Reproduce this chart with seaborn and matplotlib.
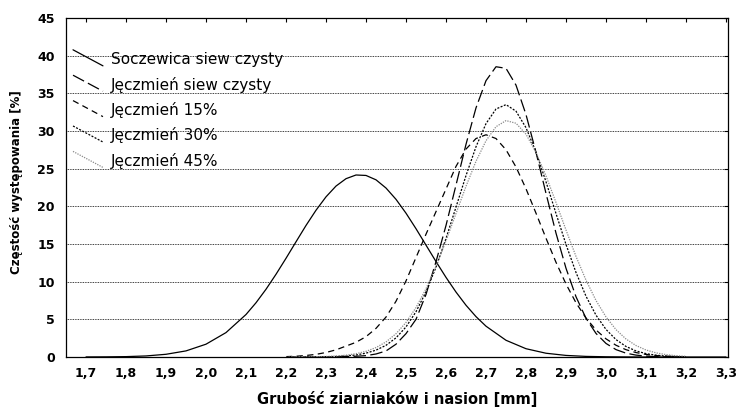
import matplotlib
matplotlib.use("Agg")
import pandas as pd
import seaborn as sns
import matplotlib.pyplot as plt
from matplotlib.lines import Line2D
from matplotlib.legend_handler import HandlerLine2D

# values (frequency in % vs thickness in mm)
lentil_x = [1.70, 1.75, 1.80, 1.85, 1.90, 1.95, 2.00, 2.05, 2.10, 2.125,
            2.15, 2.175, 2.20, 2.225, 2.25, 2.275, 2.30, 2.325, 2.35, 2.375,
            2.40, 2.425, 2.45, 2.475, 2.50, 2.525, 2.55, 2.575, 2.60, 2.625,
            2.65, 2.675, 2.70, 2.75, 2.80, 2.85, 2.90, 2.95, 3.00, 3.05,
            3.10, 3.15, 3.20, 3.25, 3.30]
lentil_y = [0.01, 0.02, 0.05, 0.14, 0.36, 0.81, 1.70, 3.24, 5.64, 7.20,
            8.99, 10.98, 13.10, 15.29, 17.46, 19.48, 21.26, 22.69, 23.67, 24.16,
            24.10, 23.52, 22.43, 20.93, 19.09, 17.03, 14.85, 12.67, 10.57, 8.62,
            6.87, 5.36, 4.09, 2.22, 1.10, 0.50, 0.21, 0.08, 0.03, 0.01,
            0.00, 0.00, 0.00, 0.00, 0.00]

barley_x = [2.200, 2.225, 2.250, 2.275, 2.300, 2.325, 2.350, 2.375, 2.400, 2.425,
            2.450, 2.475, 2.500, 2.525, 2.550, 2.575, 2.600, 2.625, 2.650, 2.675,
            2.700, 2.725, 2.750, 2.775, 2.800, 2.825, 2.850, 2.875, 2.900, 2.925,
            2.950, 2.975, 3.000, 3.025, 3.050, 3.075, 3.100, 3.125, 3.150, 3.175,
            3.200]
barley_pure = [0.00, 0.00, 0.00, 0.01, 0.01, 0.03, 0.06, 0.10, 0.18, 0.40,
               0.80, 1.70, 3.10, 5.00, 8.30, 12.65, 17.46, 22.82, 28.23, 33.07,
               36.68, 38.53, 38.32, 36.09, 32.18, 27.17, 21.72, 16.44, 11.78, 8.00,
               5.14, 3.13, 1.80, 0.98, 0.51, 0.25, 0.12, 0.05, 0.02, 0.01,
               0.00]
barley_15 = [0.05, 0.10, 0.20, 0.35, 0.60, 0.95, 1.45, 1.95, 2.70, 3.80,
             5.30, 7.40, 10.10, 13.20, 16.30, 19.30, 22.30, 25.30, 27.60, 29.00,
             29.50, 29.00, 27.51, 25.22, 22.33, 19.09, 15.77, 12.57, 9.69, 7.20,
             5.17, 3.59, 2.41, 1.56, 0.97, 0.59, 0.34, 0.19, 0.11, 0.06,
             0.03]
barley_30 = [0.00, 0.00, 0.01, 0.02, 0.03, 0.07, 0.14, 0.27, 0.51, 0.91,
             1.55, 2.54, 3.99, 6.01, 8.65, 11.92, 15.74, 19.90, 24.08, 27.91,
             30.98, 32.92, 33.50, 32.63, 30.44, 27.20, 23.26, 19.05, 14.94, 11.22,
             8.07, 5.55, 3.66, 2.31, 1.40, 0.81, 0.45, 0.24, 0.12, 0.06,
             0.03]
barley_45 = [0.00, 0.01, 0.02, 0.04, 0.07, 0.13, 0.24, 0.44, 0.75, 1.25,
             2.00, 3.09, 4.58, 6.56, 9.06, 12.04, 15.43, 19.05, 22.66, 25.98,
             28.71, 30.57, 31.38, 31.03, 29.58, 27.16, 24.04, 20.51, 16.86, 13.35,
             10.20, 7.50, 5.32, 3.63, 2.39, 1.52, 0.93, 0.55, 0.31, 0.17,
             0.09]

series_labels = ["Soczewica siew czysty", "Jęczmień siew czysty", "Jęczmień 15%",
                 "Jęczmień 30%", "Jęczmień 45%"]

x_ticks = [1.7, 1.8, 1.9, 2.0, 2.1, 2.2, 2.3, 2.4, 2.5, 2.6, 2.7, 2.8, 2.9,
           3.0, 3.1, 3.2, 3.3]
x_tick_labels = ["1,7", "1,8", "1,9", "2,0", "2,1", "2,2", "2,3", "2,4", "2,5",
                 "2,6", "2,7", "2,8", "2,9", "3,0", "3,1", "3,2", "3,3"]
y_ticks = [0, 5, 10, 15, 20, 25, 30, 35, 40, 45]


class SlantHandler(HandlerLine2D):
    # legend sample drawn as a short slanted stroke
    def create_artists(self, legend, orig_handle, xdescent, ydescent,
                       width, height, fontsize, trans):
        line = Line2D([-xdescent, -xdescent + width],
                      [-ydescent + height * 1.35, -ydescent - height * 0.15])
        self.update_prop(line, orig_handle, legend)
        line.set_transform(trans)
        return [line]


sns.set_style("white")
plt.rcParams["font.family"] = ["DejaVu Sans"]
plt.rcParams["text.color"] = "black"
plt.rcParams["axes.labelcolor"] = "black"

fig = plt.figure(figsize=(7.4, 4.07), dpi=100)
ax = fig.add_axes([66 / 740, 1 - 357 / 407, 662 / 740, 339 / 407])

styles = [
    ("black", "-", 0.9),
    ("black", (0, (10, 3.5)), 0.9),
    ("black", (0, (5, 3.5)), 0.9),
    ("black", (0, (1.6, 1.2)), 0.9),
    ("#8a8a8a", (0, (1, 1)), 0.9),
]
data = [(lentil_x, lentil_y), (barley_x, barley_pure), (barley_x, barley_15),
        (barley_x, barley_30), (barley_x, barley_45)]

for (xs, ys), lab, (col, ls, lw) in zip(data, series_labels, styles):
    df = pd.DataFrame({"x": xs, "y": ys})
    sns.lineplot(data=df, x="x", y="y", ax=ax, color=col, linestyle=ls,
                 linewidth=lw, label=lab, legend=False)

ax.set_xlim(1.65, 3.305)
ax.set_ylim(0, 45)
ax.set_xticks(x_ticks)
ax.set_xticklabels(x_tick_labels)
ax.set_yticks(y_ticks)
for lbl in ax.get_xticklabels() + ax.get_yticklabels():
    lbl.set_fontweight("bold")
    lbl.set_fontsize(9)
    lbl.set_color("black")
ax.tick_params(direction="in", length=3, width=0.8, top=True, right=True,
               colors="black", labelcolor="black")
ax.tick_params(axis="x", pad=7)
ax.tick_params(axis="y", pad=8)
ax.grid(axis="y", color="black", linestyle=(0, (1, 1)), linewidth=0.6)
ax.grid(axis="x", visible=False)
for sp in ax.spines.values():
    sp.set_color("black")
    sp.set_linewidth(0.9)

ax.set_xlabel("Grubość ziarniaków i nasion [mm]", fontsize=10.5,
              fontweight="bold", color="black")
ax.set_ylabel("Częstość występowania [%]", fontsize=8.5, fontweight="bold",
              color="black")
ax.xaxis.set_label_coords(0.5, -0.10)
ax.yaxis.set_label_coords(-0.065, 0.516)

handles, labels = ax.get_legend_handles_labels()
ax.legend(handles, labels, loc="upper left", bbox_to_anchor=(0.0106, 0.899),
          borderaxespad=0, borderpad=0, frameon=False, fontsize=11,
          handlelength=1.96, handletextpad=0.52, labelspacing=0.615,
          handler_map={Line2D: SlantHandler()})

fig.savefig("out.png", dpi=100)
